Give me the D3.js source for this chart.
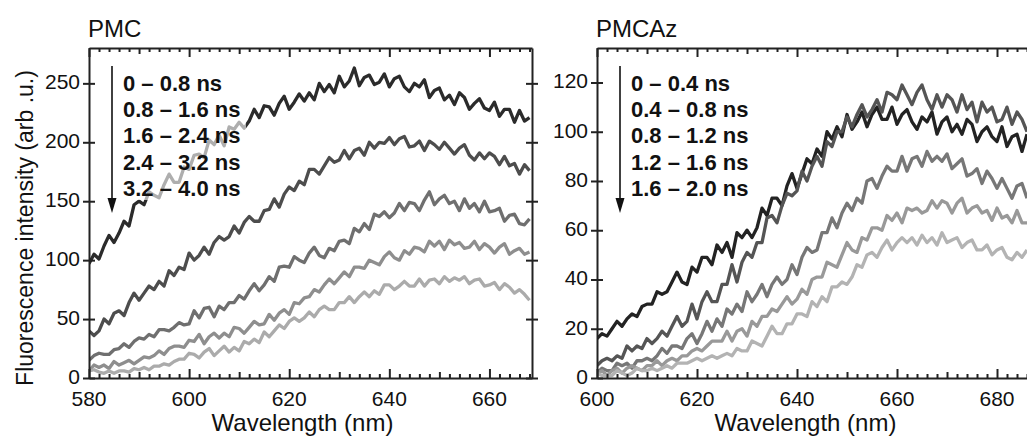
<!DOCTYPE html>
<html>
<head>
<meta charset="utf-8">
<script src="https://cdnjs.cloudflare.com/ajax/libs/d3/7.8.5/d3.min.js"></script>
<style>
  body { margin: 0; background: #fff; }
  svg { display: block; font-family: "Liberation Sans", Arial, sans-serif; }
</style>
</head>
<body>
<div id="graph"></div>
<script>

/* - - - DATA - - - */

// PMC, 1 nm steps from 580 nm
var pmcStart = 580;
var pmcLabels = ["0 \u2013 0.8 ns", "0.8 \u2013 1.6 ns", "1.6 \u2013 2.4 ns", "2.4 \u2013 3.2 ns", "3.2 \u2013 4.0 ns"];
var pmc1 = [97,105,101,112,121,115,123,133,129,147, 150,147,158,155,153,164,173,166,166,179,
            177,189,190,187,202,198,206,197,213,211, 217,212,218,228,221,231,230,223,233,239,
            228,234,241,235,242,236,250,243,249,242, 256,247,252,263,248,255,257,249,251,258,
            247,254,256,247,243,250,247,253,238,244, 246,236,240,232,242,238,228,233,237,229,
            227,234,222,228,228,217,227,218,221];
var pmc2 = [40,36,40,50,46,55,57,53,64,72, 66,72,78,75,82,78,91,87,94,92,
            106,100,104,111,105,115,120,117,120,129, 123,132,137,133,133,142,143,152,145,156,
            162,159,167,164,177,177,173,180,187,183, 185,193,186,193,195,189,200,195,200,199,
            204,198,203,205,196,197,201,193,201,198, 194,200,195,190,195,198,189,185,191,186,
            191,188,181,188,180,182,173,181,176];
var pmc3 = [15,19,21,20,20,24,25,29,26,31, 34,33,37,35,41,41,40,43,47,45,
            46,57,51,59,60,52,61,58,64,64, 70,67,74,80,74,79,86,82,94,95,
            94,103,100,98,106,111,104,102,110,108, 116,117,114,127,124,131,126,139,137,141,
            136,140,148,142,149,148,142,151,158,147, 152,155,148,150,142,152,144,148,141,150,
            141,142,144,133,138,139,131,130,135];
var pmc4 = [6,11,9,11,8,14,11,13,15,12, 15,18,17,19,23,20,25,27,27,26,
            32,31,37,29,35,38,34,38,35,43, 42,38,43,48,45,46,54,49,55,58,
            54,64,63,68,69,75,73,79,84,80, 85,90,86,94,94,93,100,98,96,103,
            107,102,100,108,105,111,110,107,116,112, 116,109,117,113,115,110,111,116,109,114,
            111,106,111,114,105,108,110,105,107];
var pmc5 = [6,7,5,4,6,4,6,6,5,8, 7,9,7,10,10,12,11,14,16,16,
            21,20,17,22,25,19,23,27,22,26, 23,31,29,33,30,39,35,40,45,42,
            48,51,48,51,56,52,58,61,58,58, 64,64,69,64,69,73,69,74,71,79,
            79,75,78,82,78,78,84,78,83,84, 80,86,82,85,83,86,80,83,84,78,
            79,81,75,80,77,72,75,71,66];
var pmcXTicks = [580, 600, 620, 640, 660];
var pmcYTicks = [0, 50, 100, 150, 200, 250];

// PMCAz, 1 nm steps from 600 nm
var pmcazStart = 600;
var pmcazLabels = ["0 \u2013 0.4 ns", "0.4 \u2013 0.8 ns", "0.8 \u2013 1.2 ns", "1.2 \u2013 1.6 ns", "1.6 \u2013 2.0 ns"];
var pmcaz1 = [16,18,17,20,23,21,24,26,25,29, 30,30,35,34,35,39,43,39,38,45,
              43,49,49,46,54,51,55,49,59,57, 60,57,61,69,66,73,73,70,78,83,
              77,83,89,87,93,90,100,97,102,98, 107,101,104,108,102,107,110,105,105,110,
              103,107,109,104,101,106,104,108,99,104, 106,100,103,99,105,103,96,100,102,98,
              96,102,94,98,99,92,99];
var pmcaz2 = [5,7,8,7,9,8,13,11,13,12, 16,14,16,19,17,21,25,21,23,30,
              24,31,35,31,31,38,38,46,39,47, 51,49,55,55,65,66,63,70,75,74,
              76,84,80,86,90,86,96,94,100,100, 106,102,107,111,106,109,113,108,116,115,
              113,119,115,111,116,119,113,109,115,110, 115,113,108,115,109,112,104,112,108,110,
              104,105,110,103,108,105,100];
var pmcaz3 = [2,4,3,3,6,5,6,4,7,7, 8,7,9,12,10,13,13,12,16,18,
              14,18,23,19,24,21,28,26,30,27, 35,31,34,38,33,38,41,38,40,46,
              42,49,53,51,52,59,59,65,61,67, 71,68,73,71,80,81,77,82,86,84,
              84,90,84,89,90,86,92,88,90,88, 91,85,87,89,82,83,85,79,84,81,
              77,81,77,73,78,79,73];
var pmcaz4 = [2,3,1,3,4,2,4,5,4,3, 5,5,7,5,7,8,7,9,9,11,
              12,11,13,15,15,15,19,15,19,20, 17,23,21,25,25,28,27,30,33,30,
              32,36,34,40,41,41,47,46,45,50, 55,52,51,57,56,61,61,60,66,64,
              67,63,69,68,69,67,68,72,69,72, 71,67,71,73,67,69,70,67,68,64,
              69,65,66,63,68,63,63];
var pmcaz5 = [2,1,1,1,3,2,1,2,4,3, 3,4,3,4,5,4,6,6,6,7,
              8,7,8,9,8,9,10,9,12,11, 11,15,14,13,17,21,18,18,22,22,
              26,26,25,31,29,33,31,37,37,39, 38,41,46,45,50,51,49,53,56,52,
              55,57,55,57,54,58,55,57,54,59, 55,56,57,53,55,56,52,52,54,50,
              52,53,49,48,51,49,52];
var pmcazXTicks = [600, 620, 640, 660, 680];
var pmcazYTicks = [0, 20, 40, 60, 80, 100, 120];

var pmcColors = ["#2b2b2b", "#4d4d4d", "#6f6f6f", "#8e8e8e", "#ababab"];
var pmcazColors = ["#232323", "#555555", "#777777", "#999999", "#b3b3b3"];

/* - - - END DATA - - - */


var svgWidth = 1027;
var svgHeight = 439;

var svg = d3.select('#graph')
            .append('svg')
            .attr('width', svgWidth)
            .attr('height', svgHeight);

function drawPanel(p) {
    var x = d3.scaleLinear().domain(p.xDomain).range([p.left, p.right]);
    var y = d3.scaleLinear().domain(p.yDomain).range([p.bottom, p.top]);
    var g = svg.append('g');

    g.append('clipPath').attr('id', p.id + 'clip')
        .append('rect')
        .attr('x', p.left).attr('y', p.top)
        .attr('width', p.right - p.left).attr('height', p.bottom - p.top);

    // curves
    var line = d3.line()
        .x(function (d, i) { return x(p.start + i); })
        .y(function (d) { return y(d); });

    g.append('g').attr('clip-path', 'url(#' + p.id + 'clip)')
        .selectAll('path')
        .data(p.series)
        .enter()
        .append('path')
        .attr('d', line)
        .attr('fill', 'none')
        .attr('stroke', function (d, i) { return p.colors[i]; })
        .attr('stroke-width', 3.3)
        .attr('stroke-linejoin', 'round');

    // minor ticks every 2 nm, longer on 10 and 20
    var minor = d3.range(p.xDomain[0], p.xDomain[1] + 0.01, 2);
    function tickLen(d) { return d % 20 === 0 ? 9 : (d % 10 === 0 ? 6 : 4); }

    var bottom = g.append('g')
        .attr('transform', 'translate(0,' + p.bottom + ')')
        .call(d3.axisBottom(x).tickValues(minor).tickFormat('').tickSizeOuter(0));
    bottom.selectAll('.tick line').attr('y2', function (d) { return -tickLen(d); });

    var top = g.append('g')
        .attr('transform', 'translate(0,' + p.top + ')')
        .call(d3.axisTop(x).tickValues(minor).tickFormat('').tickSizeOuter(0));
    top.selectAll('.tick line').attr('y2', function (d) { return tickLen(d); });

    // tick labels
    g.selectAll('.xlab')
        .data(p.xTicks)
        .enter()
        .append('text')
        .attr('x', function (d) { return x(d); })
        .attr('y', p.bottom + 28)
        .attr('text-anchor', 'middle')
        .attr('font-size', 21)
        .attr('fill', '#111')
        .text(function (d) { return d; });

    var leftAx = g.append('g')
        .attr('transform', 'translate(' + p.left + ',0)')
        .call(d3.axisLeft(y).tickValues(p.yTicks).tickSize(6).tickSizeOuter(0).tickPadding(3));
    leftAx.selectAll('.tick line').attr('x1', 6);
    leftAx.selectAll('.tick text').attr('font-size', 21).attr('fill', '#111')
        .attr('dy', '0.26em')
        .attr('font-family', '"Liberation Sans", Arial, sans-serif');

    var rightAx = g.append('g')
        .attr('transform', 'translate(' + p.right + ',0)')
        .call(d3.axisRight(y).tickValues(p.yTicks).tickSize(6).tickFormat('').tickSizeOuter(0));
    rightAx.selectAll('.tick line').attr('x1', -6);

    g.selectAll('.domain, .tick line').attr('stroke', '#222').attr('stroke-width', 2);

    // titles
    g.append('text')
        .attr('x', p.left - 1).attr('y', 37)
        .attr('font-size', 24).attr('fill', '#111')
        .text(p.title);

    g.append('text')
        .attr('x', (p.left + Math.min(p.right, svgWidth - 5)) / 2 + p.xTitleShift)
        .attr('y', 431)
        .attr('text-anchor', 'middle')
        .attr('font-size', 24).attr('fill', '#111')
        .text('Wavelength (nm)');

    // legend: faded patch, arrow and labels
    var lx = p.left + 34;
    g.append('rect')
        .attr('x', lx - 3).attr('y', 62)
        .attr('width', 126).attr('height', 138)
        .attr('fill', '#fff').attr('fill-opacity', 0.62);

    g.append('line')
        .attr('x1', p.left + 23).attr('x2', p.left + 23)
        .attr('y1', 66).attr('y2', 200)
        .attr('stroke', '#111').attr('stroke-width', 1.6);
    g.append('path')
        .attr('d', 'M' + (p.left + 18.5) + ',198 L' + (p.left + 27.5) + ',198 L' + (p.left + 23) + ',213 Z')
        .attr('fill', '#111');

    g.selectAll('.leg')
        .data(p.labels)
        .enter()
        .append('text')
        .attr('x', lx)
        .attr('y', function (d, i) { return 91 + i * 26.2; })
        .attr('font-size', 22)
        .attr('font-weight', 'bold')
        .attr('fill', '#111')
        .text(function (d) { return d; });
}

drawPanel({
    id: 'pmc', title: 'PMC', start: pmcStart,
    series: [pmc1, pmc2, pmc3, pmc4, pmc5], colors: pmcColors, labels: pmcLabels,
    xDomain: [580, 668.5], yDomain: [0, 280],
    xTicks: pmcXTicks, yTicks: pmcYTicks,
    left: 89, right: 532, top: 48, bottom: 378, xTitleShift: -8
});

drawPanel({
    id: 'pmcaz', title: 'PMCAz', start: pmcazStart,
    series: [pmcaz1, pmcaz2, pmcaz3, pmcaz4, pmcaz5], colors: pmcazColors, labels: pmcazLabels,
    xDomain: [600, 690], yDomain: [0, 134],
    xTicks: pmcazXTicks, yTicks: pmcazYTicks,
    left: 597, right: 1047, top: 48, bottom: 378, xTitleShift: -4
});

// y axis title
svg.append('text')
    .attr('transform', 'translate(33,228) rotate(-90)')
    .attr('text-anchor', 'middle')
    .attr('font-size', 23)
    .attr('fill', '#111')
    .text('Fluorescence intensity (arb .u.)');

</script>
</body>
</html>
